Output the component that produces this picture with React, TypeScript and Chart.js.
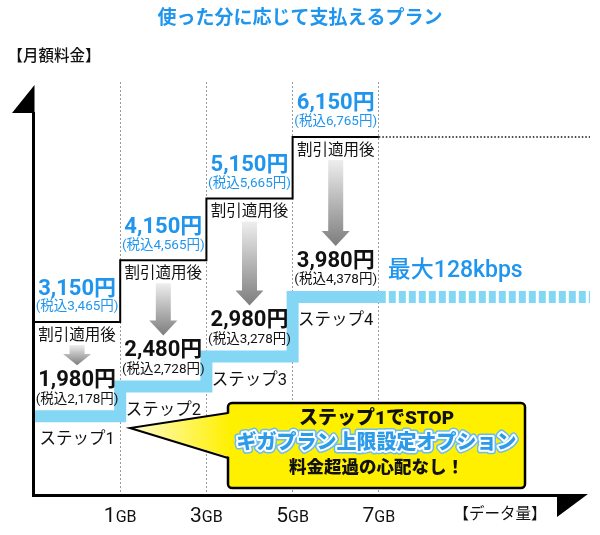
import React, { useEffect, useRef } from 'react';
import { Chart, registerables } from 'chart.js';

Chart.register(...registerables);

// ---- data ----
const stepStarts = [0, 1, 2, 3];            // x index where each step begins
const gbTickValues = [1, 2, 3, 4];
const gbTickLabels = ['1GB', '3GB', '5GB', '7GB'];
const listPrices = [3150, 4150, 5150, 6150];
const listPricesTax = [3465, 4565, 5665, 6765];
const discountPrices = [1980, 2480, 2980, 3980];
const discountPricesTax = [2178, 2728, 3278, 4378];
const stepNames = ['ステップ1', 'ステップ2', 'ステップ3', 'ステップ4'];
const xEnd = 6.45;
const lastStepEnd = 4;

const JP = 'Roboto, "Noto Sans CJK JP", "Noto Sans", sans-serif';
const BLUE = '#1F95EE';
const CYAN = '#84D6F5';

const fmt = (v: number) => v.toLocaleString('en-US');

function txt(ctx: CanvasRenderingContext2D, s: string, x: number, y: number, font: string, color: string, align: CanvasTextAlign = 'center') {
  ctx.font = font;
  ctx.fillStyle = color;
  ctx.textAlign = align;
  ctx.textBaseline = 'middle';
  ctx.fillText(s, x, y);
}

function downArrow(ctx: CanvasRenderingContext2D, cx: number, top: number, tip: number) {
  const len = tip - top;
  const headH = Math.min(15, len * 0.55);
  const shaftW = 15, headW = 28;
  const g = ctx.createLinearGradient(0, top, 0, tip);
  g.addColorStop(0, '#eeeeee');
  g.addColorStop(1, '#7d7d7d');
  ctx.beginPath();
  ctx.moveTo(cx - shaftW / 2, top);
  ctx.lineTo(cx + shaftW / 2, top);
  ctx.lineTo(cx + shaftW / 2, tip - headH);
  ctx.lineTo(cx + headW / 2, tip - headH);
  ctx.lineTo(cx, tip);
  ctx.lineTo(cx - headW / 2, tip - headH);
  ctx.lineTo(cx - shaftW / 2, tip - headH);
  ctx.closePath();
  ctx.fillStyle = g;
  ctx.fill();
}

const decorPlugin = {
  id: 'decor',
  afterDraw(chart: any) {
    const { ctx, chartArea: ca, scales } = chart;
    const xs = scales.x, ys = scales.y, y2 = scales.y2;
    ctx.save();

    // title & axis titles
    txt(ctx, '使った分に応じて支払えるプラン', 300, 19, `bold 19px ${JP}`, BLUE);
    txt(ctx, '【月額料金】', 54, 57, `500 15.5px ${JP}`, '#111');
    txt(ctx, '【データ量】', 500, 515, `15.5px ${JP}`, '#111');

    // axes
    ctx.fillStyle = '#000';
    ctx.fillRect(ca.left - 2, 112, 3, ca.bottom - 112 + 1);
    ctx.fillRect(ca.left - 2, ca.bottom - 2, 559 - ca.left + 2, 3);
    ctx.beginPath();
    ctx.moveTo(ca.left + 0.5, 85);
    ctx.lineTo(ca.left + 0.5, 113);
    ctx.lineTo(12, 113);
    ctx.closePath();
    ctx.fill();
    ctx.beginPath();
    ctx.moveTo(557, ca.bottom - 2);
    ctx.lineTo(588, ca.bottom - 2);
    ctx.lineTo(557, 517);
    ctx.closePath();
    ctx.fill();

    // x tick labels (big digit + small unit)
    gbTickValues.forEach((v, i) => {
      const px = xs.getPixelForValue(v);
      const m = gbTickLabels[i].match(/^(\d+)(.*)$/);
      const num = m ? m[1] : gbTickLabels[i];
      const unit = m ? m[2] : '';
      ctx.textBaseline = 'alphabetic';
      ctx.font = `21px ${JP}`;
      const w1 = ctx.measureText(num).width;
      ctx.font = `16px ${JP}`;
      const w2 = ctx.measureText(unit).width;
      const x0 = px - (w1 + w2) / 2;
      ctx.fillStyle = '#111';
      ctx.textAlign = 'left';
      ctx.font = `21px ${JP}`;
      ctx.fillText(num, x0, 522);
      ctx.font = `16px ${JP}`;
      ctx.fillText(unit, x0 + w1, 522);
    });

    // step annotations
    stepStarts.forEach((s, i) => {
      const cx = xs.getPixelForValue(s + 0.5);
      const yl = ys.getPixelForValue(listPrices[i]);
      const yd = y2.getPixelForValue(discountPrices[i]);
      txt(ctx, `${fmt(listPrices[i])}円`, cx, yl - 33, `bold 22px ${JP}`, BLUE);
      txt(ctx, `(税込${fmt(listPricesTax[i])}円)`, cx, yl - 15, `13.5px ${JP}`, BLUE);
      txt(ctx, '割引適用後', cx, yl + 14, `15.5px ${JP}`, '#111');
      downArrow(ctx, cx, yl + 23, yd - 51);
      txt(ctx, `${fmt(discountPrices[i])}円`, cx, yd - 36, `bold 22px ${JP}`, '#111');
      txt(ctx, `(税込${fmt(discountPricesTax[i])}円)`, cx, yd - 17, `13.5px ${JP}`, '#111');
      txt(ctx, stepNames[i], cx, yd + 24, `16.5px ${JP}`, '#111');
    });

    // max speed label
    const yLast = y2.getPixelForValue(discountPrices[discountPrices.length - 1]);
    txt(ctx, '最大128kbps', xs.getPixelForValue(lastStepEnd) + 9, yLast - 26, `500 23px ${JP}`, BLUE, 'left');

    // callout box
    const bx = 228, by = 403, bw = 297, bh = 85;
    ctx.beginPath();
    ctx.roundRect(bx, by, bw, bh, 4);
    ctx.fillStyle = '#FFF000';
    ctx.fill();
    ctx.lineWidth = 2.5;
    ctx.strokeStyle = '#000';
    ctx.stroke();
    // pointer
    const g = ctx.createLinearGradient(130, 0, 230, 0);
    g.addColorStop(0, '#FFFBD0');
    g.addColorStop(1, '#FFF000');
    ctx.beginPath();
    ctx.moveTo(233, 413);
    ctx.lineTo(130, 428);
    ctx.lineTo(233, 458);
    ctx.closePath();
    ctx.fillStyle = g;
    ctx.fill();
    ctx.beginPath();
    ctx.moveTo(bx, 413);
    ctx.lineTo(130, 428);
    ctx.lineTo(bx, 458);
    ctx.lineWidth = 2;
    ctx.lineJoin = 'miter';
    ctx.stroke();

    const cxb = bx + bw / 2;
    txt(ctx, 'ステップ1でSTOP', cxb, 419, `900 19px ${JP}`, '#111');
    ctx.font = `900 20px ${JP}`;
    ctx.textAlign = 'center';
    ctx.textBaseline = 'middle';
    ctx.lineJoin = 'round';
    ctx.strokeStyle = '#6BBDF0';
    ctx.lineWidth = 7;
    ctx.strokeText('ギガプラン上限設定オプション', cxb, 444);
    ctx.strokeStyle = '#FFFFFF';
    ctx.lineWidth = 4;
    ctx.strokeText('ギガプラン上限設定オプション', cxb, 444);
    ctx.fillStyle = '#2C9BEA';
    ctx.fillText('ギガプラン上限設定オプション', cxb, 444);
    txt(ctx, '料金超過の心配なし！', cxb, 469, `900 17.5px ${JP}`, '#111');

    ctx.restore();
  },
};

export default function App() {
  const ref = useRef<HTMLCanvasElement | null>(null);

  useEffect(() => {
    document.body.style.margin = '0';
    if (!ref.current) return;

    const listPoints = listPrices.map((v, i) => ({ x: stepStarts[i], y: v }));
    listPoints.push({ x: lastStepEnd, y: listPrices[listPrices.length - 1] });
    const listExt = [
      { x: lastStepEnd, y: listPrices[listPrices.length - 1] },
      { x: xEnd, y: listPrices[listPrices.length - 1] },
    ];
    const discPoints = discountPrices.map((v, i) => ({ x: stepStarts[i], y: v }));
    discPoints.push({ x: lastStepEnd, y: discountPrices[discountPrices.length - 1] });
    const discExt = [
      { x: lastStepEnd, y: discountPrices[discountPrices.length - 1] },
      { x: xEnd, y: discountPrices[discountPrices.length - 1] },
    ];

    const chart = new Chart(ref.current, {
      type: 'line',
      data: {
        datasets: [
          {
            label: '割引適用後',
            data: discPoints,
            yAxisID: 'y2',
            stepped: true,
            borderColor: CYAN,
            borderWidth: 12,
            borderJoinStyle: 'miter',
            borderCapStyle: 'butt',
            pointRadius: 0,
            fill: false,
          },
          {
            label: '割引適用後(128kbps)',
            data: discExt,
            yAxisID: 'y2',
            borderColor: CYAN,
            borderWidth: 12,
            borderDash: [7, 3],
            borderCapStyle: 'butt',
            pointRadius: 0,
            fill: false,
          },
          {
            label: '月額料金',
            data: listPoints,
            yAxisID: 'y',
            stepped: true,
            borderColor: '#000',
            borderWidth: 2,
            borderJoinStyle: 'miter',
            pointRadius: 0,
            fill: false,
          },
          {
            label: '月額料金(上限)',
            data: listExt,
            yAxisID: 'y',
            borderColor: '#111',
            borderWidth: 1.5,
            borderDash: [1.5, 2],
            pointRadius: 0,
            fill: false,
          },
        ],
      },
      options: {
        responsive: false,
        animation: false,
        devicePixelRatio: 1,
        layout: { padding: { top: 82, left: 34, right: 10, bottom: 39 } },
        plugins: { legend: { display: false }, tooltip: { enabled: false } },
        scales: {
          x: {
            type: 'linear',
            min: 0,
            max: xEnd,
            afterBuildTicks: (s: any) => {
              s.ticks = gbTickValues.map((v) => ({ value: v }));
            },
            ticks: { display: false },
            grid: { color: '#9a9a9a', lineWidth: 1, drawTicks: false },
            border: { display: false, dash: [2, 2] },
          },
          y: { type: 'linear', min: 330, max: 7040, display: false },
          y2: { type: 'linear', min: 640, max: 7590, display: false },
        },
      } as any,
      plugins: [decorPlugin],
    });
    return () => chart.destroy();
  }, []);

  return (
    <div style={{ width: 600, height: 535, background: '#fff' }}>
      <canvas ref={ref} width={600} height={535} />
    </div>
  );
}
